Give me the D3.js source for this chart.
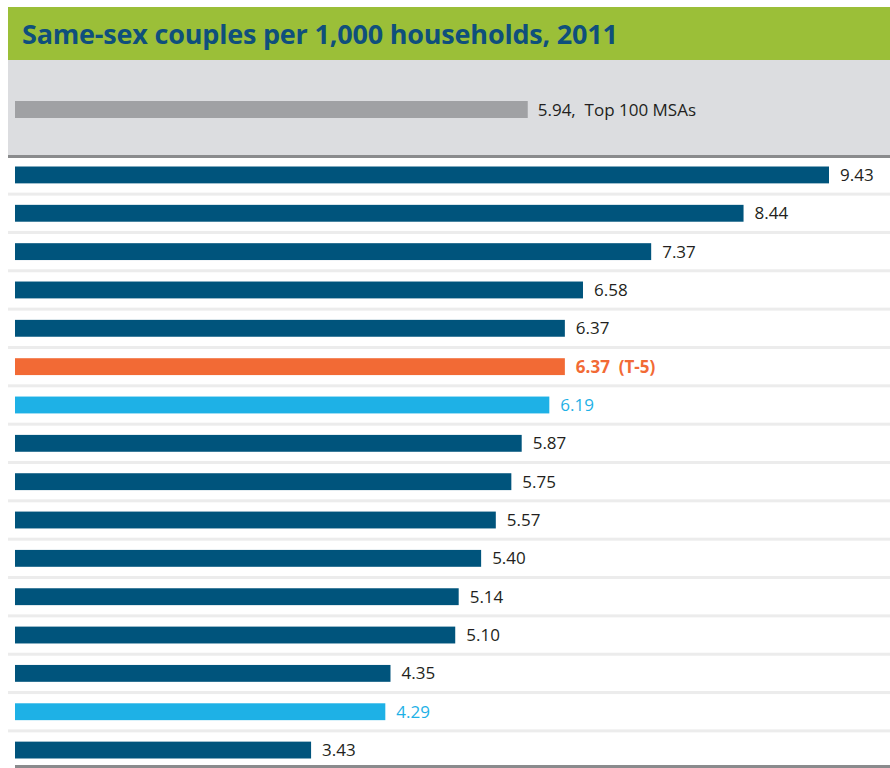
<!DOCTYPE html>
<html>
<head>
<meta charset="utf-8">
<script src="https://cdn.jsdelivr.net/npm/d3@7"></script>
<style>
  body { margin: 0; background: #fff; }
  svg { display: block; font-family: "Open Sans", sans-serif; }
</style>
</head>
<body>
<div id="chart"></div>
<script>
// values, top to bottom
var values = [9.43, 8.44, 7.37, 6.58, 6.37, 6.37, 6.19, 5.87, 5.75, 5.57, 5.40, 5.14, 5.10, 4.35, 4.29, 3.43];
var labels = ["9.43", "8.44", "7.37", "6.58", "6.37", "6.37\u00a0\u00a0(T-5)", "6.19", "5.87", "5.75", "5.57", "5.40", "5.14", "5.10", "4.35", "4.29", "3.43"];
// kind: 0 = normal, 1 = highlight (orange), 2 = peer (light blue)
var kinds = [0, 0, 0, 0, 0, 1, 2, 0, 0, 0, 0, 0, 0, 0, 2, 0];
var avgValue = 5.94;
var avgLabel = "5.94,\u00a0\u00a0Top 100 MSAs";
var title = "Same-sex couples per 1,000 households, 2011";

var width = 890, height = 768;
var colors = ["#00547c", "#f26a35", "#1eb1e6"];
var labelColors = ["#231f20", "#f26a35", "#1eb1e6"];

var svg = d3.select("#chart").append("svg")
    .attr("width", width).attr("height", height);

var x = d3.scaleLinear().domain([0, 9.43]).range([15, 829]);
var y = d3.scaleBand().domain(d3.range(values.length))
    .range([155, 770]).paddingInner(0.56).paddingOuter(0.3);

// header
svg.append("rect").attr("x", 8).attr("y", 7).attr("width", width - 8).attr("height", 53)
    .attr("fill", "#9bbf38");
svg.append("text").attr("x", 22).attr("y", 44)
    .attr("fill", "#0f4f7c").attr("font-weight", "bold").attr("font-size", 27)
    .attr("letter-spacing", -0.2)
    .text(title);

// grey benchmark panel
svg.append("rect").attr("x", 8).attr("y", 60).attr("width", width - 8).attr("height", 95)
    .attr("fill", "#dcdde0");
svg.append("rect").attr("x", x(0)).attr("y", 101).attr("width", x(avgValue) - x(0)).attr("height", 17)
    .attr("fill", "#a0a1a4");
svg.append("text").attr("x", x(avgValue) + 10).attr("y", 116)
    .attr("fill", "#231f20").attr("font-size", 17).text(avgLabel);
svg.append("rect").attr("x", 8).attr("y", 155).attr("width", width - 8).attr("height", 3)
    .attr("fill", "#8a8b8d");

// row separators
svg.selectAll("rect.sep").data(d3.range(values.length - 1)).enter().append("rect")
    .attr("class", "sep")
    .attr("x", 8).attr("width", width - 8)
    .attr("y", function (d) { return (y(d) + y.bandwidth() + y(d + 1)) / 2 - 1.5; })
    .attr("height", 3).attr("fill", "#ececec");

// bars
svg.selectAll("rect.bar").data(values).enter().append("rect")
    .attr("class", "bar")
    .attr("x", x(0))
    .attr("y", function (d, i) { return y(i); })
    .attr("width", function (d) { return x(d) - x(0); })
    .attr("height", y.bandwidth())
    .attr("fill", function (d, i) { return colors[kinds[i]]; });

svg.selectAll("text.val").data(values).enter().append("text")
    .attr("class", "val")
    .attr("x", function (d) { return x(d) + 11; })
    .attr("y", function (d, i) { return y(i) + y.bandwidth() / 2 + 6; })
    .attr("font-size", 17)
    .attr("font-weight", function (d, i) { return kinds[i] == 1 ? "bold" : "normal"; })
    .attr("fill", function (d, i) { return labelColors[kinds[i]]; })
    .text(function (d, i) { return labels[i]; });

// bottom rule
svg.append("rect").attr("x", 15).attr("y", 765).attr("width", width - 15).attr("height", 3)
    .attr("fill", "#8a8b8d");
</script>
</body>
</html>
